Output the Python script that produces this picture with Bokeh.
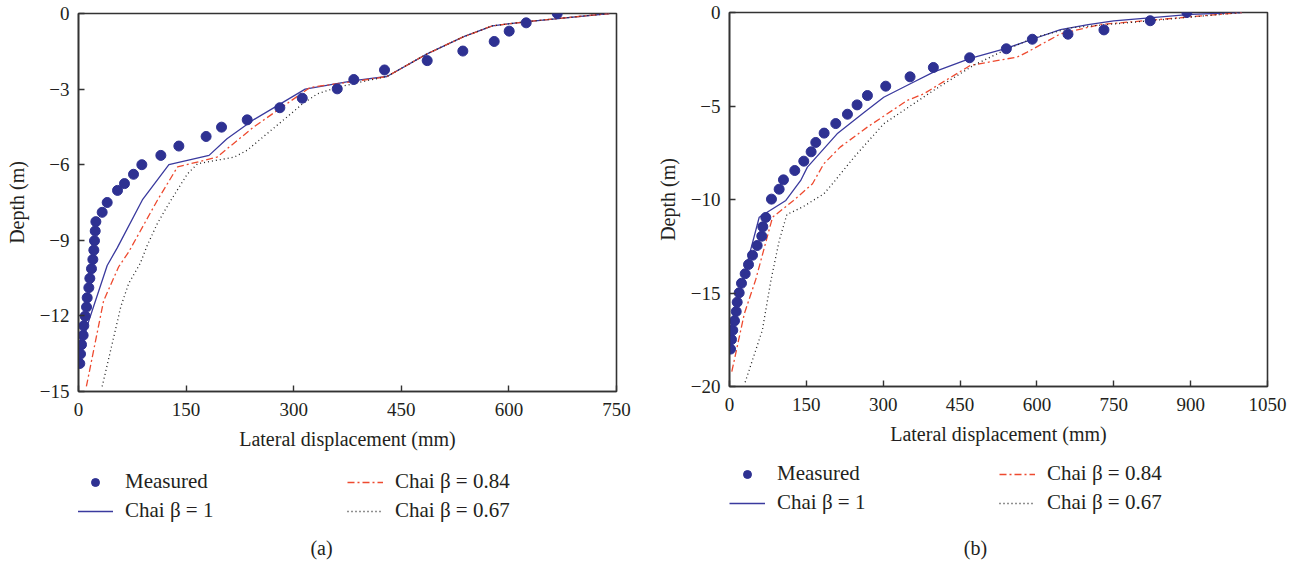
from bokeh.plotting import figure
from bokeh.layouts import row, column
from bokeh.models import Range1d, FixedTicker, Legend, LegendItem, Label
from bokeh.embed import file_html
from bokeh.resources import INLINE

# ---------------- data: panel (a) ----------------
a_xticks = [0, 150, 300, 450, 600, 750]
a_yticks = [0, -3, -6, -9, -12, -15]
a_ylabels = ["0", "\u22123", "\u22126", "\u22129", "\u221212", "\u221215"]

a_meas_x = [1.8, 2.8, 4.2, 6.5, 7.4, 9.3, 11.2, 12.1, 14.4, 15.8, 18.1, 20.0, 21.4, 22.3,
            23.3, 24.2, 33.0, 40.0, 54.4, 64.1, 76.7, 88.3, 114.8, 139.9, 177.9, 199.4,
            235.2, 280.7, 311.9, 360.7, 383.8, 426.6, 486.1, 535.8, 579.5, 600.4, 624.1, 667.4]
a_meas_d = [-13.89, -13.51, -13.14, -12.77, -12.39, -12.01, -11.65, -11.28, -10.88, -10.51,
            -10.13, -9.76, -9.39, -9.02, -8.63, -8.26, -7.89, -7.50, -7.02, -6.75, -6.38,
            -6.00, -5.63, -5.26, -4.88, -4.51, -4.22, -3.74, -3.36, -2.99, -2.62, -2.24,
            -1.87, -1.49, -1.11, -0.70, -0.37, 0.0]

a_b100_x = [2, 12, 40, 54, 89, 126, 182, 207, 245, 316, 384, 430, 486, 537, 577, 626, 740]
a_b100_d = [-13.6, -12.4, -10.0, -9.3, -7.4, -6.0, -5.63, -4.97, -4.2, -3.0, -2.66, -2.5,
            -1.6, -0.92, -0.49, -0.32, 0.0]

a_b084_x = [11, 35, 56, 70, 110, 138, 193, 244, 323, 384, 430, 486, 537, 577, 626, 740]
a_b084_d = [-14.8, -11.4, -10.05, -9.46, -7.41, -6.09, -5.70, -4.51, -2.93, -2.7, -2.5,
            -1.6, -0.92, -0.49, -0.32, 0.0]

a_b067_x = [33, 52, 59, 70, 86, 96, 110, 126, 152, 166, 217, 235, 296, 312, 333, 361, 403,
            430, 486, 537, 577, 626, 740]
a_b067_d = [-14.8, -12.49, -11.63, -10.71, -9.92, -9.19, -8.33, -7.54, -6.36, -5.96, -5.70,
            -5.43, -3.98, -3.59, -3.19, -2.93, -2.66, -2.5, -1.6, -0.92, -0.49, -0.32, 0.0]

# ---------------- data: panel (b) ----------------
b_xticks = [0, 150, 300, 450, 600, 750, 900, 1050]
b_yticks = [0, -5, -10, -15, -20]
b_ylabels = ["0", "\u22125", "\u221210", "\u221215", "\u221220"]

b_meas_x = [2.0, 3.9, 6.4, 9.8, 13.1, 15.0, 18.9, 23.4, 30.6, 37.1, 44.9, 54.0, 63.0, 65.0,
            70.8, 81.9, 96.9, 105.3, 127.4, 145.0, 159.3, 168.4, 184.7, 207.4, 230.2, 249.0,
            269.2, 304.9, 352.4, 397.9, 468.7, 540.3, 591.0, 660.6, 730.8, 821.1, 892.7]
b_meas_d = [-18.0, -17.49, -16.99, -16.49, -15.99, -15.49, -14.99, -14.48, -13.97, -13.48,
            -12.98, -12.46, -11.96, -11.46, -10.96, -9.98, -9.45, -8.95, -8.45, -7.95,
            -7.45, -6.95, -6.45, -5.94, -5.44, -4.94, -4.44, -3.94, -3.44, -2.94, -2.42,
            -1.94, -1.43, -1.16, -0.93, -0.44, 0.0]

b_b100_x = [0, 58, 110, 139, 152, 210, 260, 301, 350, 398, 470, 540, 591, 646, 700, 750, 900, 1000]
b_b100_d = [-17.0, -10.95, -10.05, -8.98, -8.27, -6.49, -5.4, -4.53, -3.85, -3.19, -2.45,
            -1.92, -1.43, -0.92, -0.65, -0.45, -0.1, 0.0]

b_b084_x = [4.5, 29, 51, 84, 125, 162, 184, 216, 269, 347, 379, 470, 541, 561, 581, 646, 724, 1000]
b_b084_d = [-19.2, -16.1, -14.3, -10.95, -10.05, -9.16, -8.09, -7.2, -6.13, -4.7, -4.35,
            -2.83, -2.48, -2.39, -2.12, -1.14, -0.64, 0.0]

b_b067_x = [30.6, 64, 81, 97, 112, 142, 184, 201, 243, 301, 398, 476, 529, 594, 666, 1000]
b_b067_d = [-19.77, -17.0, -14.3, -12.2, -10.8, -10.41, -9.7, -9.16, -7.74, -5.95, -4.17,
            -2.83, -2.12, -1.35, -0.82, 0.0]

labels = ["Measured", "Chai \u03b2 = 1", "Chai \u03b2 = 0.84", "Chai \u03b2 = 0.67"]
captions = ["(a)", "(b)"]

FONT = "Liberation Serif"
TXT = "#231f20"
FRAME = "#333333"
C_MEAS = "#2e3192"
C_B1 = "#3a3a9e"
C_B084 = "#ee4a2f"
C_B067 = "#222222"
DASHDOT = "7 3 2 3"
DOT = "1 3"


def panel(width, height, bl, br, bt, bb, xmax, ymin, xticks, yticks, ylabels,
          mx, md, s1x, s1d, s2x, s2d, s3x, s3d):
    p = figure(width=width, height=height, output_backend="svg", toolbar_location=None,
               x_range=Range1d(0, xmax), y_range=Range1d(ymin, 0),
               min_border_left=bl, min_border_right=br, min_border_top=bt,
               min_border_bottom=bb)
    p.grid.visible = False
    p.outline_line_color = FRAME
    p.outline_line_width = 1.6
    p.background_fill_color = "white"
    p.border_fill_color = "white"

    for ax in (p.xaxis[0], p.yaxis[0]):
        ax.axis_line_color = FRAME
        ax.axis_line_width = 1.6
        ax.major_tick_in = 6
        ax.major_tick_out = 0
        ax.major_tick_line_color = FRAME
        ax.major_tick_line_width = 1.4
        ax.minor_tick_line_color = None
        ax.major_label_text_font = FONT
        ax.major_label_text_font_size = "19px"
        ax.major_label_text_color = TXT
        ax.axis_label_text_font = FONT
        ax.axis_label_text_font_size = "20px"
        ax.axis_label_text_font_style = "normal"
        ax.axis_label_text_color = TXT
    p.xaxis.ticker = FixedTicker(ticks=xticks)
    p.yaxis.ticker = FixedTicker(ticks=yticks)
    p.yaxis.major_label_overrides = {t: l for t, l in zip(yticks, ylabels)}
    p.xaxis.axis_label = "Lateral displacement (mm)"
    p.yaxis.axis_label = "Depth (m)"
    p.xaxis.major_label_standoff = 11
    p.xaxis.axis_label_standoff = 9
    p.yaxis.major_label_standoff = 9
    p.yaxis.axis_label_standoff = 9

    p.line(s1x, s1d, line_color=C_B1, line_width=1.3)
    p.line(s2x, s2d, line_color=C_B084, line_width=1.3, line_dash=DASHDOT)
    p.line(s3x, s3d, line_color=C_B067, line_width=1.3, line_dash=DOT)
    p.scatter(mx, md, size=10, fill_color=C_MEAS, line_color=C_MEAS, marker="circle")
    return p


def strip(width, height, vx, vy, cap, cx, cy, mx, md, s1x, s1d, s2x, s2d, s3x, s3d):
    q = figure(width=width, height=height, output_backend="svg", toolbar_location=None,
               x_range=Range1d(0, 1), y_range=Range1d(0, 1),
               min_border_left=0, min_border_right=0,
               min_border_top=0, min_border_bottom=0)
    q.axis.visible = False
    q.grid.visible = False
    q.outline_line_color = None
    q.border_fill_color = "white"
    q.background_fill_color = "white"
    # legend samples (their data lie outside this strip's ranges, so only the legend shows them)
    g0 = q.scatter(mx[:1], md[:1], size=8, fill_color=C_MEAS, line_color=C_MEAS, marker="circle")
    g1 = q.line(s1x[:2], s1d[:2], line_color=C_B1, line_width=1.3)
    g2 = q.line(s2x[:2], s2d[:2], line_color=C_B084, line_width=1.3, line_dash=DASHDOT)
    g3 = q.line(s3x[:2], s3d[:2], line_color=C_B067, line_width=1.3, line_dash=DOT)
    leg = Legend(items=[LegendItem(label=labels[0], renderers=[g0]),
                        LegendItem(label=labels[1], renderers=[g1]),
                        LegendItem(label=labels[2], renderers=[g2]),
                        LegendItem(label=labels[3], renderers=[g3])],
                 location=(vx, vy), ncols=2, orientation="vertical",
                 glyph_width=36, glyph_height=20, label_height=20, label_width=218,
                 label_standoff=12, spacing=4, padding=0, margin=0,
                 border_line_color=None, background_fill_alpha=0,
                 label_text_font=FONT, label_text_font_size="21px",
                 label_text_color=TXT)
    q.add_layout(leg, "center")
    q.add_layout(Label(x=cx, y=cy, x_units="screen", y_units="screen",
                       text=cap, text_font=FONT, text_font_size="20px",
                       text_color=TXT, text_align="center", text_baseline="middle"))
    return q


# the strip under each panel shares that panel's left border (column alignment),
# so the legend / caption offsets below are measured from the panel's frame edge
pa = panel(640, 469, 78, 24, 13, 78, 750, -15, a_xticks, a_yticks, a_ylabels,
           a_meas_x, a_meas_d, a_b100_x, a_b100_d, a_b084_x, a_b084_d, a_b067_x, a_b067_d)
qa = strip(640, 92, -1, 38, captions[0], 243, 14,
           a_meas_x, a_meas_d, a_b100_x, a_b100_d, a_b084_x, a_b084_d, a_b067_x, a_b067_d)

pb = panel(658, 458, 89, 31, 12, 72, 1050, -20, b_xticks, b_yticks, b_ylabels,
           b_meas_x, b_meas_d, b_b100_x, b_b100_d, b_b084_x, b_b084_d, b_b067_x, b_b067_d)
qb = strip(658, 103, 0, 46, captions[1], 246, 14,
           b_meas_x, b_meas_d, b_b100_x, b_b100_d, b_b084_x, b_b084_d, b_b067_x, b_b067_d)

layout = row(column(pa, qa), column(pb, qb))
open("out.html", "w").write(file_html(layout, INLINE))
